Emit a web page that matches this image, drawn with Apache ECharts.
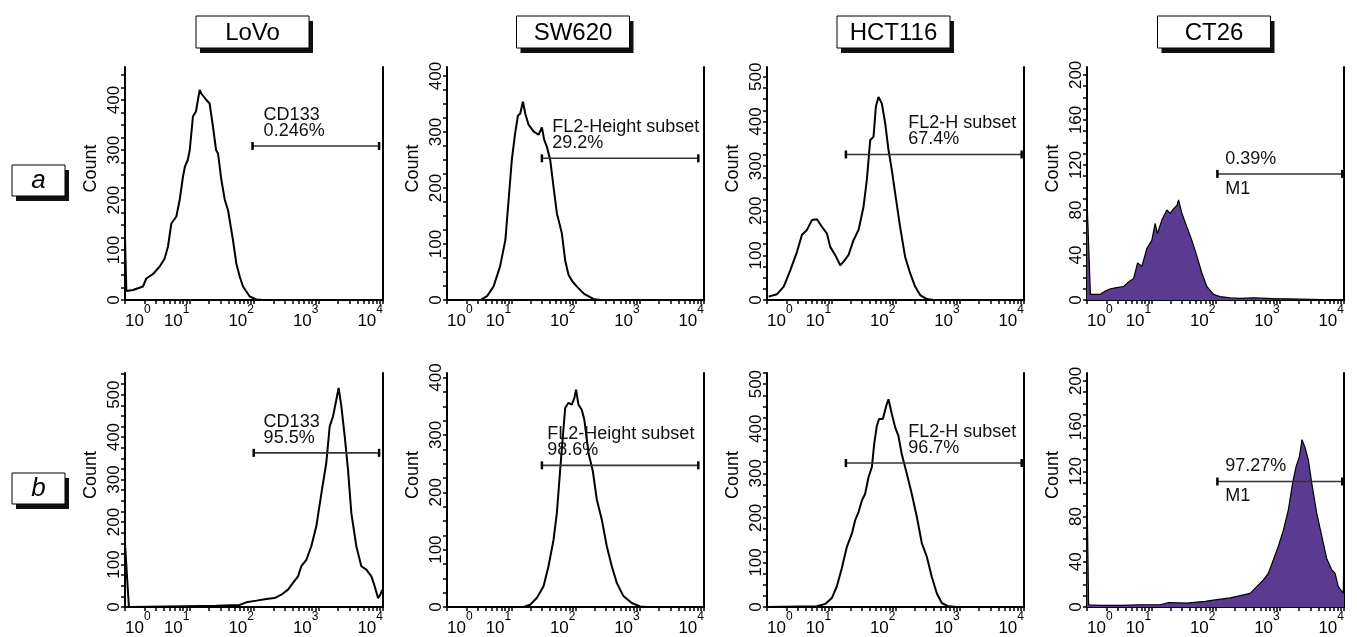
<!DOCTYPE html>
<html><head><meta charset="utf-8">
<script src="https://cdn.jsdelivr.net/npm/echarts@6/dist/echarts.min.js"></script>
<style>html,body{margin:0;padding:0;background:#fff}#c{width:1357px;height:637px}</style>
</head><body><div id="c"></div>
<script>
// ---------- labels ----------
const cellLines = ['LoVo', 'SW620', 'HCT116', 'CT26'];
const rowLabels = ['a', 'b'];
const xLabelValues = [1, 10, 100, 1000, 10000];
const xTickValues = [1,2,3,4,5,6,7,8,9,10,20,30,40,50,60,70,80,90,100,200,300,400,500,600,700,800,900,1000,2000,3000,4000,5000,6000,7000,8000,9000,10000];
const yMaxA = [466, 416, 522, 207];
const yMaxB = [551, 408, 525, 207];
const yLabelStep = [100, 100, 100, 40];
const yMinorStep = [25, 25, 25, 10];

// ---------- histogram data [fluorescence, count] ----------
const lovoA = [[1,123],[1.05,18],[1.33,20],[1.9,27],[2.14,43],[2.72,52],[3.45,67],[4.12,83],[4.64,107],[5.23,153],[6.25,167],[7.04,200],[7.93,247],[8.5,267],[9.4,280],[10.1,300],[11.3,367],[12.6,377],[13.5,400],[14.4,420],[15.2,413],[16.2,410],[18.3,400],[20.5,393],[23.1,347],[25.8,300],[27.7,293],[31.2,240],[35.3,200],[39.5,180],[47.2,120],[53.2,73],[60,47],[67.5,27],[85.7,7],[109,1],[140,0],[10000,0]];
const sw620A = [[1,0],[3.3,0],[4.2,7],[5.3,24],[6.7,60],[8.1,107],[9.1,179],[10.2,250],[11.5,298],[12.7,329],[13.8,333],[15.2,354],[16.5,333],[18.6,313],[22.2,301],[26.6,295],[30,308],[32.6,286],[35.8,274],[40.4,250],[45.5,202],[51.3,155],[61.3,119],[69,71],[77.8,45],[89.8,33],[107,23],[136,11],[190,2],[242,0],[10000,0]];
const hct116A = [[1.06,7.5],[1.43,13],[1.82,30],[2.31,67],[2.93,108],[3.5,146],[4.19,157],[5.0,179],[5.98,181],[7.16,164],[8.57,149],[9.64,119],[11.5,101],[13.8,78],[15.6,86],[18.6,101],[22.2,134],[26.6,157],[31.8,209],[35.8,269],[40.4,358],[45.5,366],[49.5,433],[54.4,455],[61.3,440],[69.1,396],[77.8,336],[87.7,291],[98.8,239],[118,164],[141,97],[169,60],[202,30],[242,11],[307,2],[390,0],[10000,0]];
const ct26A = [[1,90],[1.13,5],[1.61,5],[1.93,8],[2.31,10],[2.93,11],[3.71,12],[4.44,16],[5.31,19],[6.13,33],[7.16,30],[8.57,46],[10.2,53],[11.5,68],[12.5,59],[14.6,71],[17.5,80],[19.7,77],[22.2,81],[25.1,84],[26.6,89],[30,77],[35.8,65],[42.9,53],[51.3,39],[61.3,24],[73.3,12],[93.1,5],[118,3],[169,2],[242,1.5],[390,2],[628,1.5],[1010,1],[1360,1],[1450,0],[10000,0]];
const lovoB = [[1,149],[1.15,0],[8.9,2],[26,3],[60,5],[76,11],[109,15],[155,19],[209,21],[265,29],[337,41],[402,57],[481,72],[542,96],[648,111],[774,143],[925,190],[1110,268],[1320,339],[1490,425],[1680,449],[1890,488],[2050,516],[2260,473],[2550,402],[2870,323],[3230,221],[3860,143],[4610,96],[5520,88],[6600,72],[7430,49],[8370,21],[9090,29],[9770,41]];
const sw620B = [[1,0],[15.6,0],[19.7,4],[25.1,16],[31.8,36],[38,71],[45.5,117],[51.3,164],[57.8,240],[63.6,298],[69.1,347],[77.8,356],[87.7,353],[96.4,365],[102,379],[111,353],[125,344],[137,327],[159,269],[186,237],[215,187],[257,152],[307,106],[367,71],[439,42],[557,19],[751,7],[1010,1],[1290,0],[10000,0]];
const hct116B = [[1,0],[5.98,1.5],[8.07,7],[10.2,20],[12.2,46],[14.6,87],[17.5,135],[21,165],[23.6,195],[26.6,213],[30,239],[33.7,254],[38,291],[42.9,314],[46.6,366],[51.3,407],[55.7,422],[63.6,422],[71.6,451],[77.8,466],[87.7,433],[98.8,403],[111,384],[125,343],[150,299],[179,254],[215,202],[257,143],[307,113],[367,68],[439,31],[525,9],[667,1.5],[898,0],[10000,0]];
const ct26B = [[1,102],[1.06,2],[1.61,1.5],[3.3,1.5],[6.75,2],[13.8,2],[18.6,4],[35.8,3.5],[69.1,5],[105,6.5],[169,8],[242,10],[346,12],[439,18],[557,24],[667,30],[798,42],[953,54],[1140,68],[1360,86],[1590,110],[1790,124],[2020,133],[2220,148],[2480,141],[2790,130],[3140,110],[3760,83],[4500,63],[5380,43],[6430,33],[7250,30],[8160,18],[9200,14],[9770,12],[10000,65]];
const seriesA = [lovoA, sw620A, hct116A, ct26A];
const seriesB = [lovoB, sw620B, hct116B, ct26B];

// ---------- gates [start, end, count level, text anchor] ----------
const gateA = [[95, 8700, 308, 141], [30, 8150, 253, 43.5], [16.9, 9200, 326, 158], [107, 9400, 112, 142]];
const gateB = [[99, 8700, 363, 141], [30, 8150, 247, 36.4], [16.9, 9200, 323, 158], [107, 9400, 111, 142]];
const gateTextA = [['CD133\n0.246%', ''], ['FL2-Height subset\n29.2%', ''], ['FL2-H subset\n67.4%', ''], ['0.39%', 'M1']];
const gateTextB = [['CD133\n95.5%', ''], ['FL2-Height subset\n98.6%', ''], ['FL2-H subset\n96.7%', ''], ['97.27%', 'M1']];

// ---------- layout ----------
const FONT = '"Liberation Sans", Arial, sans-serif';
const colLeft = [125, 447, 767, 1087];
const colWidth = [258, 257, 257, 257];
const rowTop = [67, 373];
const rowHeight = [233, 234];
const titleCenter = [252.5, 573, 893.5, 1214];
const rowBoxTop = [165, 473];
const FILL = '#5b3b91';

const chart = echarts.init(document.getElementById('c'), null, {renderer: 'canvas'});
const grids = [], xAxes = [], yAxes = [], series = [];

function steps(max, step) { const a = []; for (let v = 0; v <= max + 1e-9; v += step) a.push(v); return a; }

function makeGate(above, below) {
  return function (params, api) {
    const y = api.value(2);
    const p1 = api.coord([api.value(0), y]);
    const p2 = api.coord([api.value(1), y]);
    const pt = api.coord([api.value(3), y]);
    const ch = [
      {type: 'line', shape: {x1: p1[0], y1: p1[1], x2: p2[0], y2: p2[1]}, style: {stroke: '#333', lineWidth: 1.6}},
      {type: 'line', shape: {x1: p1[0], y1: p1[1] - 4, x2: p1[0], y2: p1[1] + 4}, style: {stroke: '#000', lineWidth: 2.5}},
      {type: 'line', shape: {x1: p2[0], y1: p2[1] - 4, x2: p2[0], y2: p2[1] + 4}, style: {stroke: '#000', lineWidth: 2.5}}
    ];
    if (above) ch.push({type: 'text', style: {text: above, x: pt[0], y: p1[1] - 7, font: '18px ' + FONT, fill: '#111', align: 'left', verticalAlign: 'bottom', lineHeight: 16}});
    if (below) ch.push({type: 'text', style: {text: below, x: pt[0], y: p1[1] + 7, font: '18px ' + FONT, fill: '#111', align: 'left', verticalAlign: 'top', lineHeight: 16}});
    return {type: 'group', children: ch};
  };
}

for (let r = 0; r < 2; r++) {
  for (let c = 0; c < 4; c++) {
    const idx = r * 4 + c;
    const yMax = (r === 0 ? yMaxA : yMaxB)[c];
    grids.push({left: colLeft[c], top: rowTop[r], width: colWidth[c], height: rowHeight[r], containLabel: false});
    xAxes.push({
      type: 'log', logBase: 10, min: 1, max: 10000, gridIndex: idx, position: 'bottom',
      axisLine: {show: true, lineStyle: {color: '#000', width: 2}},
      axisTick: {show: true, length: 4, lineStyle: {color: '#000', width: 1.5}, customValues: xTickValues},
      axisLabel: {
        show: true, customValues: xLabelValues, margin: 4, align: 'right', alignMinLabel: 'left',
        formatter: v => '{b|10}{s|' + Math.round(Math.log10(v)) + '}',
        rich: {
          b: {fontSize: 17, fontFamily: FONT, color: '#000', lineHeight: 26, verticalAlign: 'bottom'},
          s: {fontSize: 12, fontFamily: FONT, color: '#000', lineHeight: 12, verticalAlign: 'top'}
        }
      },
      splitLine: {show: false}
    });
    xAxes.push({
      type: 'value', min: 0, max: 1, gridIndex: idx, position: 'top',
      axisLine: {show: !(r === 0 && c === 0), lineStyle: {color: '#000', width: 2}},
      axisTick: {show: false}, axisLabel: {show: false}, splitLine: {show: false}
    });
    yAxes.push({
      type: 'value', min: 0, max: yMax, gridIndex: idx, position: 'left',
      name: 'Count', nameLocation: 'middle', nameGap: 25, nameRotate: 90,
      nameTextStyle: {fontSize: 18, fontFamily: FONT, color: '#000', padding: [0, 0, 0, 30]},
      axisLine: {show: true, lineStyle: {color: '#000', width: 2}},
      axisTick: {show: true, length: 4, lineStyle: {color: '#000', width: 1.5}, customValues: steps(yMax, yMinorStep[c])},
      axisLabel: {show: true, rotate: 90, margin: 2, fontSize: 17, fontFamily: FONT, color: '#000', customValues: steps(yMax, yLabelStep[c])},
      splitLine: {show: false}
    });
    yAxes.push({
      type: 'value', min: 0, max: 1, gridIndex: idx, position: 'right',
      axisLine: {show: true, lineStyle: {color: '#000', width: 2}},
      axisTick: {show: false}, axisLabel: {show: false}, splitLine: {show: false}
    });
    const isFilled = c === 3;
    series.push({
      type: 'line', xAxisIndex: 2 * idx, yAxisIndex: 2 * idx,
      data: (r === 0 ? seriesA : seriesB)[c],
      showSymbol: false, symbol: 'none', silent: true, animation: false,
      lineStyle: {color: '#000', width: isFilled ? 1.2 : 2},
      areaStyle: isFilled ? {color: FILL, opacity: 1} : undefined,
      z: 2
    });
    const gt = (r === 0 ? gateTextA : gateTextB)[c];
    series.push({
      type: 'custom', xAxisIndex: 2 * idx, yAxisIndex: 2 * idx,
      data: [(r === 0 ? gateA : gateB)[c]],
      encode: {x: [0, 1, 3], y: 2},
      renderItem: makeGate(gt[0], gt[1]), clip: false, silent: true, animation: false, z: 5
    });
  }
}

const graphics = [];
cellLines.forEach((name, c) => {
  const cx = titleCenter[c], w = 113, h = 32, top = 16;
  graphics.push({type: 'rect', shape: {x: cx - w / 2 + 4, y: top + 5, width: w, height: h}, style: {fill: '#111'}, z: 10});
  graphics.push({type: 'rect', shape: {x: cx - w / 2, y: top, width: w, height: h}, style: {fill: '#fff', stroke: '#000', lineWidth: 1}, z: 11});
  graphics.push({type: 'text', style: {text: name, x: cx, y: top + h / 2 + 1, font: '24px ' + FONT, fill: '#000', align: 'center', verticalAlign: 'middle', textAlign: 'center', textVerticalAlign: 'middle'}, z: 12});
});
rowLabels.forEach((lab, r) => {
  const top = rowBoxTop[r], left = 12, w = 53, h = 31;
  graphics.push({type: 'rect', shape: {x: left + 4, y: top + 5, width: w, height: h}, style: {fill: '#111'}, z: 10});
  graphics.push({type: 'rect', shape: {x: left, y: top, width: w, height: h}, style: {fill: '#fff', stroke: '#000', lineWidth: 1}, z: 11});
  graphics.push({type: 'text', style: {text: lab, x: left + w / 2, y: top + h / 2, font: 'italic 26px ' + FONT, fill: '#000', align: 'center', verticalAlign: 'middle', textAlign: 'center', textVerticalAlign: 'middle'}, z: 12});
});

chart.setOption({
  animation: false,
  backgroundColor: '#fff',
  grid: grids, xAxis: xAxes, yAxis: yAxes, series: series,
  graphic: {elements: graphics}
});
</script></body></html>
